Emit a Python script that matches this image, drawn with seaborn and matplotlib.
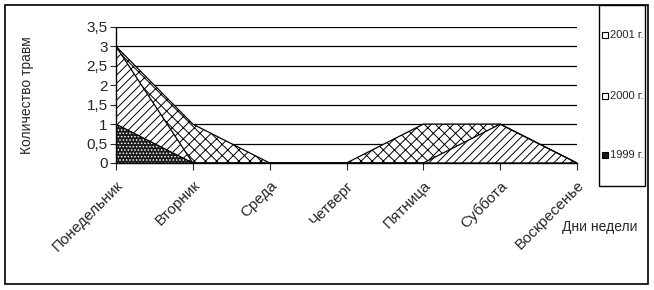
import matplotlib
matplotlib.use("Agg")
import matplotlib.pyplot as plt
import seaborn as sns
import pandas as pd
import numpy as np
from matplotlib.patches import Rectangle

days = ["Понедельник", "Вторник", "Среда", "Четверг", "Пятница", "Суббота", "Воскресенье"]
s2001 = [3, 1, 0, 0, 1, 1, 0]
s2000 = [3, 0, 0, 0, 0, 1, 0]
s1999 = [1, 0, 0, 0, 0, 0, 0]
series_names = ["2001 г.", "2000 г.", "1999 г."]
y_ticks = [0, 0.5, 1, 1.5, 2, 2.5, 3, 3.5]
y_labels = ["0", "0,5", "1", "1,5", "2", "2,5", "3", "3,5"]

sns.set_style("white")
plt.rcParams["font.family"] = ["Liberation Sans", "DejaVu Sans"]
plt.rcParams["hatch.linewidth"] = 0.7

W, H = 654, 290
fig = plt.figure(figsize=(W / 100, H / 100), dpi=100)
ax = fig.add_axes([116 / W, 1 - 163 / H, (577 - 116) / W, (163 - 27) / H])

df = pd.DataFrame({"day": days, "x": range(len(days)),
                   "2001 г.": s2001, "2000 г.": s2000, "1999 г.": s1999})
long = df.melt(id_vars=["day", "x"], var_name="series", value_name="value")

hatches = {"2001 г.": "xxx", "2000 г.": "////", "1999 г.": "....."}
faces = {"2001 г.": "white", "2000 г.": "white", "1999 г.": "#1a1a1a"}
hcols = {"2001 г.": "black", "2000 г.": "black", "1999 г.": "white"}
leg_hatch = {"2001 г.": "//", "2000 г.": "", "1999 г.": ".."}
x = df["x"].to_numpy()
for name in series_names:
    vals = df[name].to_numpy()
    ax.fill_between(x, 0, vals, facecolor=faces[name], edgecolor=hcols[name],
                    hatch=hatches[name], linewidth=0, zorder=3)
sns.lineplot(data=long, x="x", y="value", hue="series", hue_order=series_names,
             palette=["black"] * 3, linewidth=0.9, legend=False, ax=ax, zorder=4)

ax.set_xlim(0, 6)
ax.set_ylim(0, 3.5)
ax.set_yticks(y_ticks)
ax.set_yticklabels(y_labels, fontsize=11)
ax.set_xticks(x)
ax.set_xticklabels(days, rotation=45, ha="right", va="top", fontsize=11,
                   rotation_mode="anchor")
ax.tick_params(axis="x", length=5, width=0.8, direction="out", bottom=True, pad=6)
ax.tick_params(axis="y", length=4, width=0.8, direction="out", left=True, pad=2)
ax.set_xlabel("")
ax.set_ylabel("")
for gy in y_ticks[1:]:
    ax.axhline(gy, color="black", linewidth=0.9, zorder=1)
for side in ["top", "right"]:
    ax.spines[side].set_visible(False)
for side in ["left", "bottom"]:
    ax.spines[side].set_color("black")
    ax.spines[side].set_linewidth(1.0)
    ax.spines[side].set_zorder(5)

fig.text(27 / W, 1 - 95 / H, "Количество травм", rotation=90, ha="center",
         va="center", fontsize=10)
fig.text(600 / W, 1 - 227 / H, "Дни недели", ha="center", va="center", fontsize=10)

# outer border
fig.patches.append(Rectangle((5 / W, 1 - 284 / H), (648 - 5) / W, (284 - 5) / H,
                             transform=fig.transFigure, fill=False,
                             edgecolor="black", linewidth=1.2))
# legend box
fig.patches.append(Rectangle((599 / W, 1 - 186 / H), (645 - 599) / W, (186 - 5) / H,
                             transform=fig.transFigure, fill=False,
                             edgecolor="black", linewidth=1.0))
leg_y = {"2001 г.": 35, "2000 г.": 96, "1999 г.": 155}
for name in series_names:
    yc = leg_y[name]
    fig.patches.append(Rectangle((602 / W, 1 - (yc + 3) / H), 6 / W, 6 / H,
                                 transform=fig.transFigure, facecolor=faces[name],
                                 edgecolor="black", hatch=leg_hatch[name],
                                 linewidth=0.8))
    fig.text(610 / W, 1 - yc / H, name, ha="left", va="center", fontsize=8)

fig.savefig("out.png", dpi=100, facecolor="white")
